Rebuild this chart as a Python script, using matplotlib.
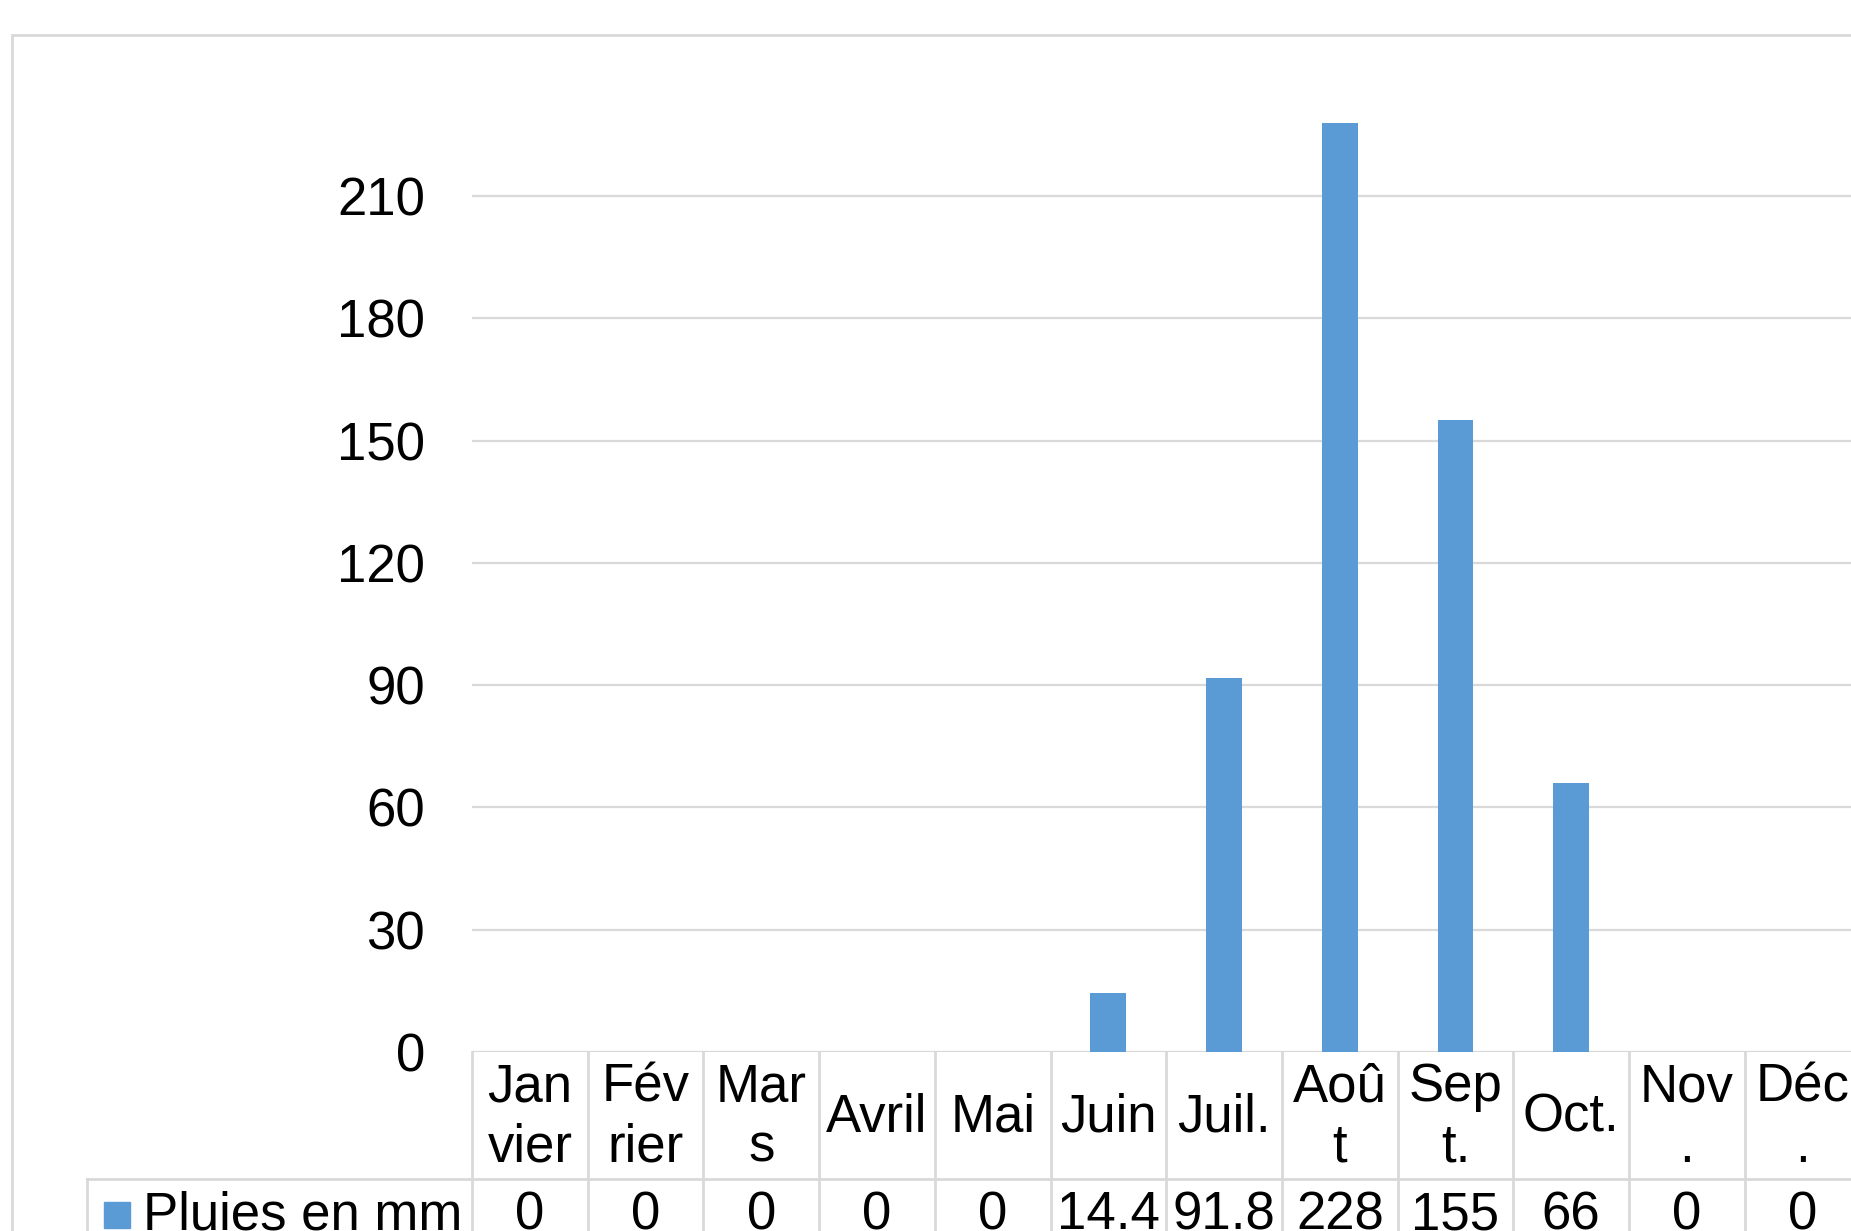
import matplotlib
matplotlib.use("Agg")
import matplotlib.pyplot as plt
from matplotlib.transforms import blended_transform_factory
from matplotlib.patches import Rectangle
from matplotlib.lines import Line2D

plt.rcParams['font.family'] = ['Liberation Sans', 'DejaVu Sans']

months = ["Jan\nvier", "Fév\nrier", "Mar\ns", "Avril", "Mai", "Juin",
          "Juil.", "Aoû\nt", "Sep\nt.", "Oct.", "Nov\n.", "Déc\n."]
values_str = ["0", "0", "0", "0", "0", "14.4", "91.8", "228", "155", "66", "0", "0"]
values = [0, 0, 0, 0, 0, 14.4, 91.8, 228, 155, 66, 0, 0]
series_name = "Pluies en mm"
yticks = [0, 30, 60, 90, 120, 150, 180, 210]

W, H = 1851, 1231
DPI = 100
fig = plt.figure(figsize=(W / DPI, H / DPI), dpi=DPI)
fig.patch.set_facecolor("white")

def fx(px):
    return px / W

def fy(py):
    return 1 - py / H

bar_color = "#5B9BD5"
grid_color = "#D9D9D9"
FS = 38

# outer chart frame
fig.add_artist(Rectangle((fx(12), fy(1260)), fx(1900), fy(35) - fy(1260),
                         transform=fig.transFigure, fill=False,
                         edgecolor=grid_color, lw=2))

left_px, zero_px, top_px = 472, 1052, 1052 - 8 * 122.3
col_w = 115.7
ax = fig.add_axes([fx(left_px), fy(zero_px), fx(12 * col_w), fy(top_px) - fy(zero_px)])
ax.set_xlim(-0.5, 11.5)
ax.set_ylim(0, 240)
ax.bar(range(len(values)), values, width=0.31, color=bar_color, zorder=3)
ax.set_yticks(yticks)
ax.set_yticklabels([str(t) for t in yticks], fontsize=FS)
ax.tick_params(axis='y', length=0, pad=34)
ax.tick_params(axis='x', length=0, labelbottom=False)
ax.grid(axis='y', color=grid_color, lw=1.6, zorder=0)
for s in ["top", "right", "left", "bottom"]:
    ax.spines[s].set_visible(False)
ax.axhline(0, color=grid_color, lw=2.2, zorder=2)
ax.set_clip_on(False)

# data table below the axis
trans = blended_transform_factory(ax.transData, fig.transFigure)
row1_px = 1179
for i in range(len(months) + 1):
    x = i - 0.5
    fig.add_artist(Line2D([x, x], [fy(zero_px), fy(H + 10)], transform=trans,
                          color=grid_color, lw=2))
fig.add_artist(Line2D([fx(87), fx(W + 20)], [fy(row1_px), fy(row1_px)],
                      transform=fig.transFigure, color=grid_color, lw=2))
fig.add_artist(Line2D([fx(87), fx(87)], [fy(row1_px), fy(H + 10)],
                      transform=fig.transFigure, color=grid_color, lw=2))

for i, (m, v) in enumerate(zip(months, values_str)):
    fig.text(i, fy((zero_px + row1_px) / 2 + 2), m, transform=trans, ha='center',
             va='center', fontsize=FS, linespacing=1.27, multialignment='center')
    fig.text(i, fy(1215), v, transform=trans, ha='center', va='center', fontsize=FS)

# legend key
fig.add_artist(Rectangle((fx(104), fy(1228)), fx(26), fy(1202) - fy(1228),
                         transform=fig.transFigure, color=bar_color))
fig.text(fx(143), fy(1215), series_name, ha='left', va='center', fontsize=FS)

fig.savefig("out.png", dpi=DPI, facecolor="white")
